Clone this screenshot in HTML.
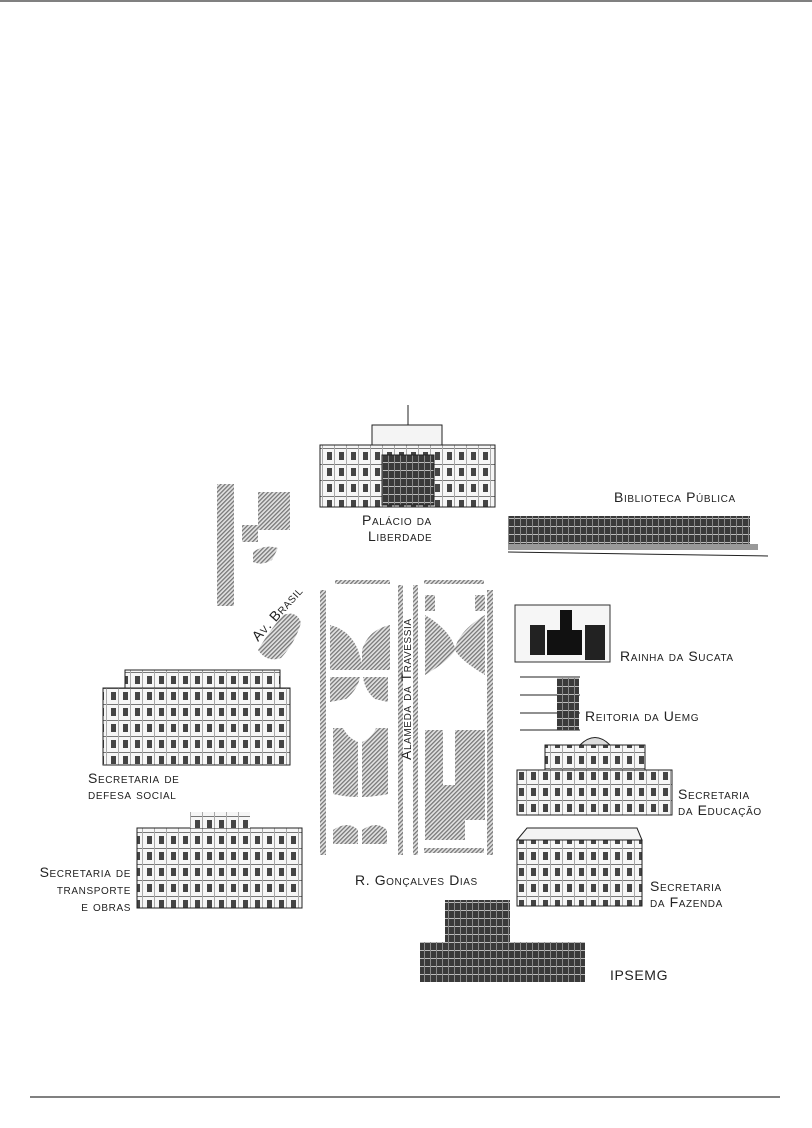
<!DOCTYPE html>
<html><head><meta charset="utf-8"><style>
html,body{margin:0;padding:0;background:#fff;}
body{width:812px;height:1128px;position:relative;overflow:hidden;}
svg{position:absolute;left:0;top:0;}
text{font-family:"Liberation Sans",sans-serif;font-variant:small-caps;fill:#222;font-size:14px;letter-spacing:0.6px;}
</style></head><body>
<svg width="812" height="1128" viewBox="0 0 812 1128">
<defs>
<pattern id="h" width="3" height="3" patternUnits="userSpaceOnUse" patternTransform="rotate(45)">
<rect width="3" height="3" fill="#e2e2e2"/><rect width="1.3" height="3" fill="#777"/></pattern>
<pattern id="w" width="12" height="16" patternUnits="userSpaceOnUse">
<rect width="12" height="16" fill="#f6f6f6"/><rect x="3" y="4" width="5" height="8" fill="#444"/><rect x="0" y="0" width="12" height="1" fill="#777"/><rect x="10" y="0" width="1" height="16" fill="#aaa"/></pattern>
<pattern id="m" width="6" height="8" patternUnits="userSpaceOnUse">
<rect width="6" height="8" fill="#3a3a3a"/><rect x="0" y="6" width="6" height="1" fill="#bbb"/><rect x="4" y="0" width="1" height="8" fill="#888"/></pattern>
</defs>
<line x1="0" y1="1" x2="812" y2="1" stroke="#000" stroke-width="1"/>
<line x1="30" y1="1097" x2="780" y2="1097" stroke="#000" stroke-width="1"/>

<!-- hatched map -->
<g fill="url(#h)">
<rect x="217" y="484" width="17" height="122"/>
<rect x="258" y="492" width="32" height="38"/>
<rect x="242" y="525" width="16" height="17"/>
<path d="M253 552 q12 -8 25 -4 l-6 12 q-10 6 -19 2z"/>
<path d="M258 650 q12 -20 25 -35 q14 -5 18 8 q-6 20 -20 35 q-14 5 -23 -8z"/>
<rect x="320" y="590" width="6" height="265"/>
<rect x="398" y="585" width="5" height="270"/>
<rect x="413" y="585" width="5" height="270"/>
<rect x="487" y="590" width="6" height="265"/>
<rect x="335" y="580" width="55" height="4"/>
<rect x="424" y="580" width="60" height="4"/>
<path d="M330 625 q20 5 28 25 l6 20 l-34 0z"/>
<path d="M390 625 q-22 5 -28 25 l0 20 l28 0z"/>
<path d="M330 677 l30 0 q-2 12 -14 22 l-16 3z"/>
<path d="M388 677 l-25 0 q2 14 12 22 l13 3z"/>
<path d="M333 728 l10 0 q5 10 15 14 l0 55 q-12 0 -25 -3z"/>
<path d="M388 728 l-12 0 q-4 10 -14 14 l0 55 q12 0 26 -3z"/>
<path d="M333 830 q15 -10 25 0 l0 14 l-25 0z"/>
<path d="M362 830 q15 -10 25 0 l0 14 l-25 0z"/>
<rect x="425" y="595" width="10" height="16"/>
<rect x="475" y="595" width="10" height="16"/>
<path d="M425 615 q25 15 30 33 q5 -18 30 -33 l0 60 q-25 -15 -30 -25 q-5 10 -30 25z"/>
<path d="M425 730 l18 0 l0 55 l12 0 l0 -55 l30 0 l0 90 l-20 0 l0 20 l-40 0z"/>
<rect x="424" y="848" width="60" height="5"/>
</g>
<text x="0" y="0" transform="translate(258,642) rotate(-48)" font-size="12">Av. Brasil</text>
<text x="0" y="0" transform="translate(411,760) rotate(-90)" font-size="14">Alameda da Travessia</text>
<text x="355" y="885">R. Gonçalves Dias</text>

<!-- Palacio -->
<g stroke="#222" stroke-width="1">
<rect x="320" y="445" width="175" height="62" fill="url(#w)"/>
<rect x="372" y="425" width="70" height="20" fill="#f4f4f4"/>
<rect x="382" y="455" width="52" height="50" fill="url(#m)"/>
<line x1="408" y1="405" x2="408" y2="425"/>
</g>
<text x="362" y="525">Palácio da</text>
<text x="368" y="541">Liberdade</text>

<!-- Biblioteca -->
<rect x="508" y="516" width="242" height="28" fill="url(#m)"/>
<rect x="508" y="544" width="250" height="6" fill="#999"/>
<line x1="508" y1="552" x2="768" y2="556" stroke="#222"/>
<text x="614" y="502">Biblioteca Pública</text>

<!-- Rainha -->
<rect x="515" y="605" width="95" height="57" fill="#f6f6f6" stroke="#333"/>
<path d="M560 630 l0 -20 l12 0 l0 20 l10 0 l0 25 l-35 0 l0 -25z" fill="#111"/>
<path d="M530 625 l15 0 l0 30 l-15 0z M585 625 l20 0 l0 35 l-20 0z" fill="#222"/>
<text x="620" y="661">Rainha da Sucata</text>

<!-- Reitoria -->
<g stroke="#222"><line x1="520" y1="677" x2="580" y2="677"/><line x1="520" y1="695" x2="580" y2="695"/><line x1="520" y1="713" x2="580" y2="713"/><line x1="520" y1="730" x2="580" y2="730"/></g>
<rect x="557" y="678" width="22" height="52" fill="url(#m)"/>
<text x="585" y="721">Reitoria da Uemg</text>

<!-- Educacao -->
<rect x="517" y="770" width="155" height="45" fill="url(#w)" stroke="#222"/>
<rect x="545" y="745" width="100" height="25" fill="url(#w)" stroke="#222"/>
<path d="M580 745 q15 -15 30 0z" fill="#ddd" stroke="#222"/>
<text x="678" y="799">Secretaria</text>
<text x="678" y="815">da Educação</text>

<!-- Fazenda -->
<rect x="517" y="840" width="125" height="66" fill="url(#w)" stroke="#222"/>
<path d="M517 840 l10 -12 l110 0 l5 12z" fill="#f4f4f4" stroke="#222"/>
<text x="650" y="891">Secretaria</text>
<text x="650" y="907">da Fazenda</text>

<!-- IPSEMG -->
<rect x="445" y="900" width="65" height="42" fill="url(#m)"/>
<rect x="420" y="942" width="165" height="40" fill="url(#m)"/>
<text x="610" y="980">IPSEMG</text>

<!-- Defesa social -->
<rect x="103" y="688" width="187" height="77" fill="url(#w)" stroke="#222"/>
<rect x="125" y="670" width="155" height="18" fill="url(#w)" stroke="#222"/>
<text x="88" y="783">Secretaria de</text>
<text x="88" y="799">defesa social</text>

<!-- Transporte -->
<rect x="137" y="828" width="165" height="80" fill="url(#w)" stroke="#222"/>
<rect x="190" y="812" width="60" height="16" fill="url(#w)"/>
<text x="131" y="877" text-anchor="end">Secretaria de</text>
<text x="131" y="894" text-anchor="end">transporte</text>
<text x="131" y="911" text-anchor="end">e obras</text>
</svg>
</body></html>
